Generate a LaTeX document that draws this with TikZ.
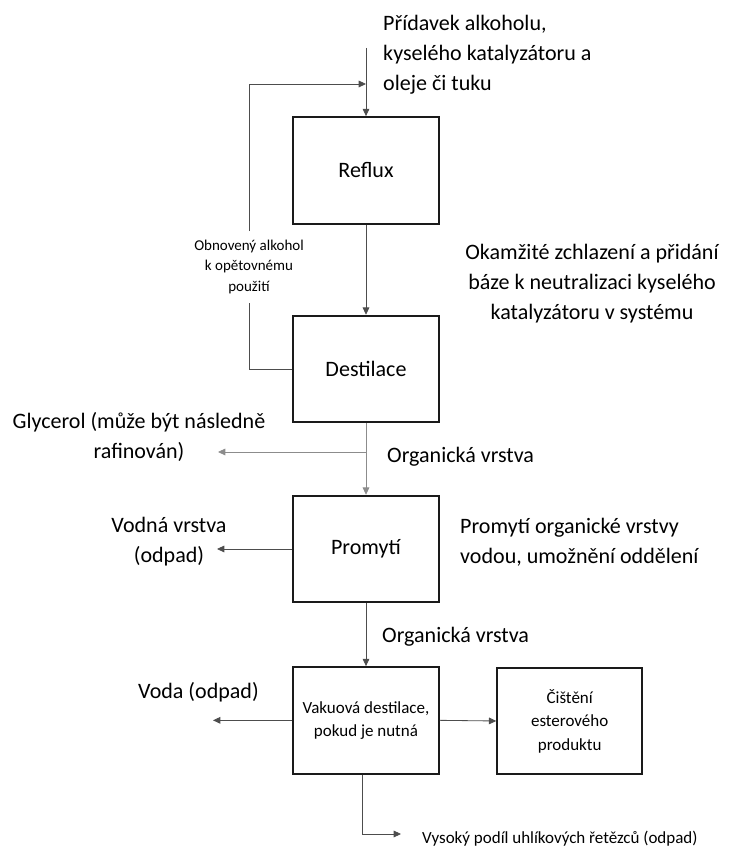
\documentclass[tikz,border=0pt]{standalone}
\usepackage{fontspec}
\setmainfont{Carlito}
\usepackage{tikz}
\usetikzlibrary{positioning,arrows.meta,calc}
\definecolor{ink}{HTML}{1A1A1A}
\definecolor{wiregray}{HTML}{4D4D4D}
\definecolor{lightwire}{HTML}{8C8C8C}

\begin{document}
\begin{tikzpicture}[font=\fontsize{18.8}{25.6}\selectfont,
  box/.style={draw=ink,line width=1.5pt,fill=white,align=center,minimum width=4.38cm,minimum height=3.2cm,inner sep=2pt},
  smalltxt/.style={font=\fontsize{14.5}{20}\selectfont,align=center},
  tinytxt/.style={font=\fontsize{12.8}{17.9}\selectfont,align=center,inner xsep=3pt,inner ysep=7pt},
  bigtxt/.style={align=left,inner sep=0pt},
  wire/.style={-{Triangle[length=2.2mm,width=2mm]},line width=0.7pt,wiregray},
  gwire/.style={wire,lightwire}]
\useasboundingbox (0,0) rectangle (21.9,25.44);
% process boxes (main column)
\node[box] (reflux) at (10.98,20.33) {Reflux};
\node[box] (destilace) at (10.98,14.37) {Destilace};
\node[box] (promyti) at (10.98,8.97) {Promytí};
\node[box,smalltxt] (vakuova) at (10.98,3.83) {Vakuová destilace,\\pokud je nutná};
\node[box,smalltxt,minimum width=4.35cm] (cisteni) at (17.09,3.81) {Čištění\\esterového\\produktu};
% inputs and recycle loop
\node[bigtxt,anchor=west] (pridavek) at (11.49,23.79) {Přídavek alkoholu,\\kyselého katalyzátoru a\\oleje či tuku};
\coordinate (vstup) at (reflux.north |- 0,24.0);
\coordinate (navrat) at (reflux.north |- 0,22.92);
\draw[wire] (vstup) -- (reflux.north);
\node[tinytxt] (obnoveny) at (7.47,17.43) {Obnovený alkohol\\k opětovnému\\použití};
\draw[wiregray,line width=0.7pt] (destilace.west) -| (obnoveny.south);
\draw[wire] (obnoveny.north) |- (navrat);
\draw[wire] (reflux.south) -- (destilace.north);
\node[align=center] (zchlazeni) at (17.76,16.92) {Okamžité zchlazení a přidání\\báze k neutralizaci kyselého\\katalyzátoru v systému};
% separation after distillation
\draw[gwire] (destilace.south) -- (promyti.north);
\coordinate (glyc) at (destilace.south |- 0,11.88);
\coordinate (glycend) at (6.54,11.88);
\draw[gwire] (glyc) -- (glycend);
\node[align=center] (glycerol) at (4.17,12.33) {Glycerol (může být následně\\rafinován)};
\node[bigtxt,anchor=west] (org1) at (11.61,11.73) {Organická vrstva};
% washing
\coordinate (vodnaend) at (6.51,8.97);
\draw[wire] (promyti.west) -- (vodnaend);
\node[align=center] (vodna) at (5.07,9.18) {Vodná vrstva\\(odpad)};
\node[bigtxt,anchor=west] (promytinote) at (13.8,9.18) {Promytí organické vrstvy\\vodou, umožnění oddělení};
\draw[wire] (promyti.south) -- (vakuova.north);
\node[bigtxt,anchor=west] (org2) at (11.46,6.33) {Organická vrstva};
% vacuum distillation outputs
\coordinate (vodaend) at (6.39,3.83);
\draw[wire] (vakuova.west) -- (vodaend);
\node[bigtxt,anchor=west] (voda) at (4.14,4.68) {Voda (odpad)};
\draw[wire] (vakuova.east) -- (cisteni.west);
\coordinate (zbytek) at (10.86,0.42);
\coordinate (zbytekend) at (12.03,0.42);
\draw[wire] (vakuova.south -| zbytek) -- (zbytek) -- (zbytekend);
\node[smalltxt,anchor=west,inner sep=0pt] (vysoky) at (12.66,0.29) {Vysoký podíl uhlíkových řetězců (odpad)};
\end{tikzpicture}
\end{document}
